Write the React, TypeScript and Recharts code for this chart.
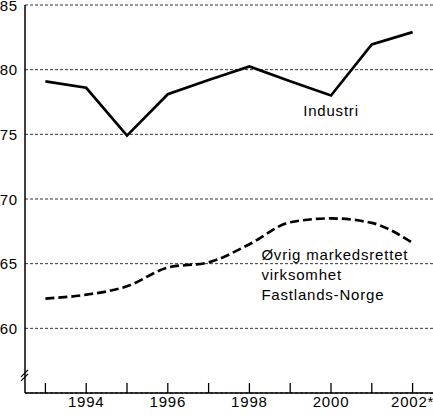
import React from "react";
import { LineChart, Line, XAxis, YAxis, CartesianGrid, ReferenceDot } from "recharts";

const years = [1993, 1994, 1995, 1996, 1997, 1998, 1999, 2000, 2001, 2002];
const industri = [79.1, 78.6, 74.9, 78.1, 79.2, 80.25, 79.1, 78.0, 81.95, 82.9];
const ovrig = [62.3, 62.6, 63.25, 64.7, 65.1, 66.5, 68.2, 68.5, 68.15, 66.6];
const yTicks = [60, 65, 70, 75, 80, 85];
const xLabels: Record<number, string> = { 1994: "1994", 1996: "1996", 1998: "1998", 2000: "2000", 2002: "2002*" };
const industriLabel = "Industri";
const ovrigLabel = ["Øvrig markedsrettet", "virksomhet", "Fastlands-Norge"];

const data = years.map((y, i) => ({ year: y, industri: industri[i], ovrig: ovrig[i] }));

const FONT = "'Liberation Sans', Arial, Helvetica, sans-serif";
const textStyle = { fontFamily: FONT, fontSize: 15, letterSpacing: 0.8, fill: "#000" };

const XTick = (props: any) => {
  const { x, y, payload } = props;
  const label = xLabels[payload.value];
  return (
    <g>
      <line x1={x} x2={x} y1={y - 10} y2={y} stroke="#000" strokeWidth={1.3} />
      {label && (
        <text x={x} y={y + 14} textAnchor="middle" style={textStyle}>
          {label}
        </text>
      )}
    </g>
  );
};

const YTick = (props: any) => {
  const { x, y, payload } = props;
  return (
    <text x={x} y={y + 5.5} textAnchor="end" style={textStyle}>
      {payload.value}
    </text>
  );
};

const BreakMark = (props: any) => {
  const { cx, cy } = props;
  return (
    <g stroke="#000" strokeWidth={1.3}>
      <line x1={cx - 4} y1={cy + 2} x2={cx + 3} y2={cy - 5} />
      <line x1={cx - 4} y1={cy + 6} x2={cx + 3} y2={cy - 1} />
    </g>
  );
};

const IndustriText = (props: any) => {
  const { cx, cy } = props;
  return (
    <text x={cx} y={cy} textAnchor="middle" style={textStyle}>
      {industriLabel}
    </text>
  );
};

const OvrigText = (props: any) => {
  const { cx, cy } = props;
  return (
    <text x={cx + 12} y={cy} textAnchor="start" style={textStyle}>
      {ovrigLabel.map((l, i) => (
        <tspan key={i} x={cx + 12} dy={i === 0 ? 0 : 20}>
          {l}
        </tspan>
      ))}
    </text>
  );
};

export default function App() {
  return (
    <div style={{ position: "absolute", left: 0, top: 0, background: "#fff" }}>
      <LineChart width={433} height={420} data={data} margin={{ top: 5, right: 0, left: 0, bottom: 0 }}>
        <CartesianGrid vertical={false} stroke="#333" strokeWidth={1} strokeDasharray="3 2" />
        <XAxis
          dataKey="year"
          type="number"
          domain={[1992.5, 2002.5]}
          ticks={years}
          interval={0}
          height={27}
          tickSize={0}
          tickMargin={0}
          tickLine={false}
          axisLine={{ stroke: "#000", strokeWidth: 1.5 }}
          tick={<XTick />}
        />
        <YAxis
          type="number"
          domain={[55, 85]}
          ticks={yTicks}
          interval={0}
          width={25}
          tickSize={0}
          tickMargin={7}
          tickLine={false}
          axisLine={{ stroke: "#000", strokeWidth: 1.5 }}
          tick={<YTick />}
        />
        <Line
          type="linear"
          dataKey="industri"
          stroke="#000"
          strokeWidth={2.7}
          dot={false}
          isAnimationActive={false}
        />
        <Line
          type="monotone"
          dataKey="ovrig"
          stroke="#000"
          strokeWidth={2.7}
          strokeDasharray="9 4"
          dot={false}
          isAnimationActive={false}
        />
        <ReferenceDot x={1992.5} y={56.4} r={0} ifOverflow="visible" shape={<BreakMark />} />
        <ReferenceDot x={2000} y={76.4} r={0} ifOverflow="visible" shape={<IndustriText />} />
        <ReferenceDot x={1998} y={65.3} r={0} ifOverflow="visible" shape={<OvrigText />} />
      </LineChart>
    </div>
  );
}
